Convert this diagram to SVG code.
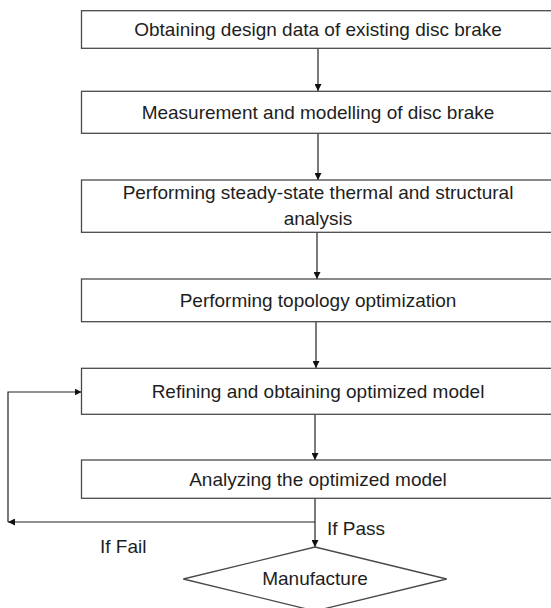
<svg xmlns="http://www.w3.org/2000/svg" width="551" height="608" viewBox="0 0 551 608">
<defs>
<style>
.box{fill:#fff;stroke:#4a4a4a;stroke-width:1.3}
.t{font-family:"Liberation Sans",Arial,sans-serif;font-size:19px;fill:#1e1e1e;text-anchor:middle}
.l{font-family:"Liberation Sans",Arial,sans-serif;font-size:19px;fill:#1e1e1e}
.c{fill:none;stroke:#222;stroke-width:1.2}
</style>
<marker id="ah" viewBox="0 0 10 10" refX="10" refY="5" markerWidth="7" markerHeight="7" markerUnits="userSpaceOnUse" orient="auto">
<path d="M0,0 L10,5 L0,10 z" fill="#111"/>
</marker>
</defs>
<rect width="551" height="608" fill="#fff"/>
<g id="connectors">
<path class="c" d="M318,48.5 V91" marker-end="url(#ah)"/>
<path class="c" d="M318,133.5 V180" marker-end="url(#ah)"/>
<path class="c" d="M317,232.5 V279" marker-end="url(#ah)"/>
<path class="c" d="M316,322 V368" marker-end="url(#ah)"/>
<path class="c" d="M315,414.5 V460" marker-end="url(#ah)"/>
<path class="c" d="M315,498.5 V547" marker-end="url(#ah)"/>
<path class="c" d="M315,522 H8" marker-end="url(#ah)"/>
<path class="c" d="M8,522 V392 H81.5" marker-end="url(#ah)"/>
</g>
<g id="n1"><rect class="box" x="81.5" y="10.7" width="476" height="37.6"/><text class="t" x="318" y="36">Obtaining design data of existing disc brake</text></g>
<g id="n2"><rect class="box" x="81.5" y="91.3" width="476" height="42"/><text class="t" x="318" y="119">Measurement and modelling of disc brake</text></g>
<g id="n3"><rect class="box" x="81.5" y="180" width="476" height="52.3"/><text class="t" x="318" y="199">Performing steady-state thermal and structural</text><text class="t" x="318" y="225">analysis</text></g>
<g id="n4"><rect class="box" x="81.5" y="279" width="476" height="42.7"/><text class="t" x="318" y="307">Performing topology optimization</text></g>
<g id="n5"><rect class="box" x="81.5" y="368.3" width="476" height="46"/><text class="t" x="318" y="398">Refining and obtaining optimized model</text></g>
<g id="n6"><rect class="box" x="81.5" y="460" width="476" height="38.3"/><text class="t" x="318" y="486">Analyzing the optimized model</text></g>
<g id="n7"><polygon class="box" points="315,547 446.7,579 315,611 183.3,579"/><text class="t" x="315" y="585">Manufacture</text></g>
<text class="l" x="327" y="535">If Pass</text>
<text class="l" x="100" y="553">If Fail</text>
</svg>
